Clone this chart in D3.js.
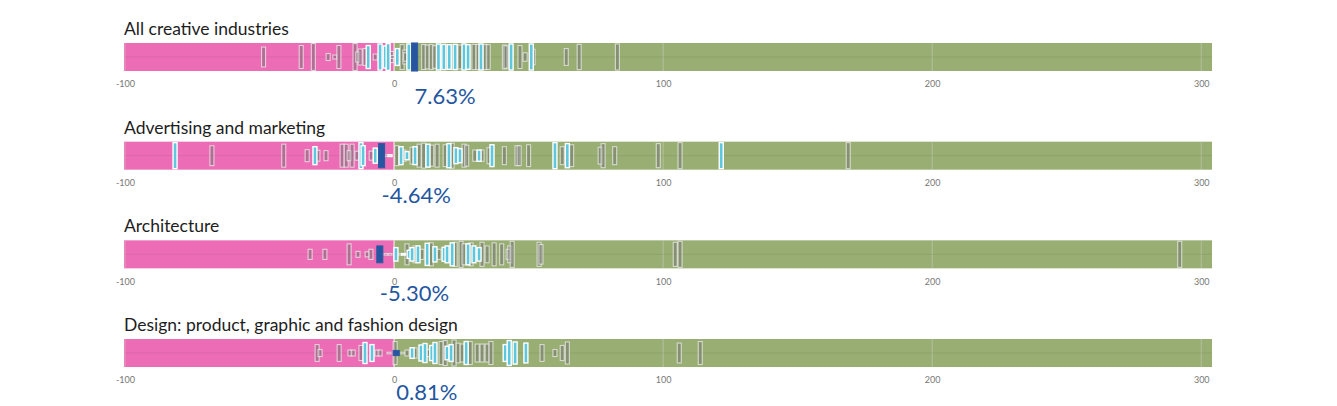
<!DOCTYPE html>
<html>
<head>
<meta charset="utf-8">
<script src="https://cdn.jsdelivr.net/npm/d3@7"></script>
<style>
  body { margin: 0; background: #fff; }
  svg { display: block; font-family: Lato, "Noto Sans", sans-serif; }
</style>
</head>
<body>
<svg id="chart" width="1337" height="406"></svg>
<script>
var width = 1337, height = 406;

var rowTitles = ['All creative industries', 'Advertising and marketing', 'Architecture',
  'Design: product, graphic and fashion design'];
var highlightValues = [7.63, -4.64, -5.30, 0.81];
var tickValues = [-100, 0, 100, 200, 300];

// per row: change in %, relative size (0-100), kind (g = other, c = same group, h = selected)
var allValues = [-48.5, -34.5, -30, -24.5, -22, -20.5, -14.5, -13.5, -12.6, -10.8,
  -9.6, -7, -5.2, -3.3, -2.2, -1, -0.5, 1.2, 3, 4,
  4.3, 5.5, 7.63, 11, 12.3, 13.8, 15, 16.5, 18.5, 20.5,
  22.7, 24.5, 26, 27.5, 29.7, 31.2, 32.3, 33.8, 35, 41,
  41.6, 43.5, 46.8, 48.7, 51, 51.7, 64, 68.8, 83];
var allSizes = [71, 82, 96, 25, 14, 82, 96, 36, 57, 60,
  82, 21, 93, 79, 96, 40, 10, 60, 89, 50,
  30, 93, 100, 89, 85, 89, 80, 93, 90, 88,
  90, 85, 93, 88, 90, 90, 93, 90, 88, 85,
  80, 93, 82, 30, 93, 55, 60, 90, 93];
var allKinds = ['g', 'g', 'g', 'g', 'g', 'g', 'g', 'g', 'g', 'g',
  'c', 'g', 'c', 'c', 'c', 'g', 'g', 'c', 'g', 'g',
  'g', 'c', 'h', 'g', 'g', 'g', 'g', 'c', 'c', 'c',
  'c', 'g', 'c', 'c', 'g', 'g', 'c', 'g', 'g', 'g',
  'g', 'c', 'g', 'g', 'c', 'g', 'g', 'g', 'g'];

var advValues = [-81.4, -67.7, -41, -32.3, -29.4, -28.3, -25.3, -19.3, -17.8, -16.7,
  -15.6, -13.8, -12.3, -11.5, -8.5, -7, -4.64, -2.6, -1.5, 1,
  2.6, 3.7, 4.8, 6.7, 7.8, 9.3, 11, 12.6, 14, 16,
  19, 20.4, 21.6, 23, 24.5, 26, 27, 30, 31.6, 32.7,
  35.3, 36.4, 41, 45.7, 46.5, 50, 59.8, 62.5, 64.4, 66,
  76.6, 77.7, 82, 98.2, 106.3, 121.6, 168.8];
var advSizes = [93, 71, 82, 43, 64, 39, 36, 82, 82, 36,
  82, 32, 93, 71, 32, 54, 86, 6, 6, 71,
  64, 40, 29, 60, 64, 82, 89, 82, 75, 82,
  78, 86, 89, 57, 50, 82, 75, 40, 40, 40,
  57, 78, 64, 71, 71, 78, 93, 64, 86, 78,
  60, 86, 64, 86, 93, 93, 93];
var advKinds = ['c', 'g', 'g', 'g', 'c', 'g', 'g', 'g', 'g', 'g',
  'g', 'g', 'c', 'c', 'g', 'c', 'h', 'g', 'c', 'g',
  'c', 'g', 'c', 'g', 'c', 'g', 'g', 'c', 'g', 'g',
  'g', 'c', 'g', 'c', 'c', 'g', 'g', 'g', 'c', 'g',
  'g', 'c', 'g', 'g', 'g', 'g', 'c', 'g', 'c', 'g',
  'g', 'g', 'g', 'g', 'g', 'c', 'g'];

var archValues = [-31.2, -25.7, -16.7, -13.4, -10, -8.6, -5.3, -3, -1.5, 0.7,
  2.2, 3.5, 4.8, 5.6, 6.7, 7.8, 8.9, 10.4, 12.3, 13.8,
  15.2, 16.7, 18.6, 19.7, 21.6, 22.7, 24.9, 26, 27.5, 28.6,
  29.7, 31.6, 32.7, 34.6, 37.2, 40, 42.4, 43, 43.9, 53.9,
  54.6, 104.5, 106.3, 292];
var archSizes = [36, 36, 75, 21, 18, 36, 60, 5, 5, 48,
  5, 5, 75, 29, 48, 60, 60, 36, 79, 82,
  54, 36, 50, 60, 82, 86, 93, 75, 75, 82,
  60, 48, 86, 60, 82, 75, 36, 60, 93, 86,
  70, 86, 93, 93];
var archKinds = ['g', 'g', 'g', 'g', 'g', 'g', 'h', 'g', 'g', 'c',
  'g', 'c', 'g', 'c', 'c', 'g', 'c', 'g', 'c', 'g',
  'c', 'g', 'c', 'c', 'c', 'g', 'g', 'g', 'c', 'g',
  'c', 'c', 'g', 'g', 'g', 'g', 'g', 'g', 'g', 'g',
  'g', 'g', 'g', 'g'];

var designValues = [-28.6, -27.5, -20.4, -16.4, -15.2, -12.3, -10.8, -8.2, -6.3, -5.2,
  -1.9, 0.4, 0.81, 3.3, 4.8, 6.7, 7.8, 10, 11.5, 12.6,
  14, 15.2, 17.5, 19, 19.7, 21.2, 22.3, 23.8, 25.3, 26.8,
  28.3, 30.9, 32.7, 34.6, 36, 41.3, 42.8, 45, 49, 55,
  59.8, 62.5, 64.4, 106, 113.8];
var designSizes = [60, 25, 60, 21, 21, 54, 75, 60, 21, 21,
  5, 82, 18, 5, 21, 38, 36, 57, 68, 25,
  54, 75, 82, 89, 48, 60, 93, 70, 64, 82,
  82, 64, 64, 64, 82, 60, 89, 79, 71, 60,
  25, 54, 79, 71, 82];
var designKinds = ['g', 'g', 'g', 'g', 'g', 'g', 'c', 'c', 'g', 'g',
  'g', 'g', 'h', 'g', 'g', 'c', 'g', 'c', 'c', 'g',
  'c', 'c', 'g', 'g', 'c', 'c', 'g', 'g', 'g', 'c',
  'g', 'g', 'g', 'g', 'g', 'c', 'c', 'c', 'c', 'g',
  'g', 'g', 'g', 'g', 'g'];

var rows = [
  { values: allValues, sizes: allSizes, kinds: allKinds },
  { values: advValues, sizes: advSizes, kinds: advKinds },
  { values: archValues, sizes: archSizes, kinds: archKinds },
  { values: designValues, sizes: designSizes, kinds: designKinds }
];

var bandH = 28, rowStep = 98.67, firstTop = 43;
var x = d3.scaleLinear().domain([-100, 304]).range([125, 1212]);
var h = d3.scaleLinear().domain([0, 100]).range([0, bandH]);
var kindOrder = { g: 0, c: 1, h: 2 };

var svg = d3.select('#chart');

rows.forEach(function(row, i) {
  var g = svg.append('g')
      .attr('transform', 'translate(0,' + (firstTop + i * rowStep) + ')');

  g.append('text')
      .attr('x', 124)
      .attr('y', -8)
      .attr('font-size', 17.5)
      .attr('fill', '#1d1d1d')
      .text(rowTitles[i]);

  g.append('rect')
      .attr('x', x(-100) - 1).attr('y', 0)
      .attr('width', x(0) - x(-100) + 1).attr('height', bandH)
      .attr('fill', '#ec6db5');
  g.append('rect')
      .attr('x', x(0)).attr('y', 0)
      .attr('width', x(304) - x(0)).attr('height', bandH)
      .attr('fill', '#99ae73');

  g.selectAll('line.grid')
      .data(tickValues)
      .enter()
      .append('line')
      .attr('class', 'grid')
      .attr('x1', function(d) { return x(d); })
      .attr('x2', function(d) { return x(d); })
      .attr('y1', 0)
      .attr('y2', function(d) { return d === 0 ? bandH + 4 : bandH; })
      .attr('stroke', function(d) { return d === 0 ? '#ffffff' : '#d8d8d8'; })
      .attr('stroke-opacity', function(d) { return d === 0 ? 0.9 : 0.45; });

  g.append('line')
      .attr('x1', x(-100)).attr('x2', x(304))
      .attr('y1', bandH / 2).attr('y2', bandH / 2)
      .attr('stroke', '#000').attr('stroke-opacity', 0.07);

  var axis = d3.axisBottom(x)
      .tickValues(tickValues)
      .tickFormat(function(d) { return String(d); })
      .tickSize(0)
      .tickPadding(10);
  var ax = g.append('g')
      .attr('transform', 'translate(0,' + bandH + ')')
      .call(axis);
  ax.select('.domain').remove();
  ax.selectAll('text')
      .attr('font-size', 9)
      .attr('fill', '#777')
      .attr('font-family', 'Lato, "Noto Sans", sans-serif');

  var marks = row.values.map(function(v, j) {
    return { value: v, size: row.sizes[j], kind: row.kinds[j] };
  }).sort(function(a, b) { return kindOrder[a.kind] - kindOrder[b.kind]; });

  g.selectAll('rect.mark')
      .data(marks)
      .enter()
      .append('rect')
      .attr('class', 'mark')
      .attr('x', function(d) { return x(d.value) - (d.kind === 'h' ? 3 : 2); })
      .attr('width', function(d) { return d.kind === 'h' ? 6 : 4; })
      .attr('y', function(d) { return bandH / 2 - Math.max(h(d.size), 1.5) / 2; })
      .attr('height', function(d) { return Math.max(h(d.size), 1.5); })
      .attr('fill', function(d) {
        if (d.kind === 'h') return '#2755a0';
        if (d.kind === 'c') return '#5cc7dd';
        return 'rgba(110,110,110,0.45)';
      })
      .attr('stroke', function(d) {
        if (d.kind === 'h') return '#2e5ba3';
        if (d.kind === 'c') return '#ffffff';
        return 'rgba(238,238,238,0.75)';
      })
      .attr('stroke-width', function(d) { return d.kind === 'c' ? 1.4 : 1.1; });

  g.append('text')
      .attr('x', x(highlightValues[i]))
      .attr('y', bandH + 33)
      .attr('font-size', 22)
      .attr('fill', '#2456a0')
      .text(highlightValues[i].toFixed(2) + '%');
});
</script>
</body>
</html>
